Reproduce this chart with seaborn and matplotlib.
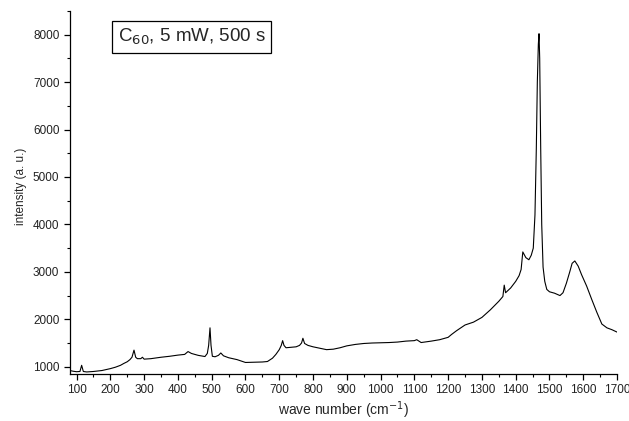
import matplotlib
matplotlib.use("Agg")
import matplotlib.pyplot as plt
import seaborn as sns
import pandas as pd
from matplotlib.ticker import MultipleLocator

wavenumber = [80, 90, 100, 110, 115, 120, 130, 150, 175, 200, 215, 230, 240, 250, 258, 264, 270, 275, 280,
              290, 295, 300, 320, 350, 375, 400, 420, 430, 440, 460, 480, 487, 491, 495, 498, 502, 510,
              520, 527, 535, 550, 575, 600, 625, 650, 665, 680, 690, 700, 706, 710, 714, 720, 735, 750,
              760, 766, 770, 775, 785, 800, 820, 840, 860, 880, 900, 925, 950, 975, 1000, 1025, 1050,
              1075, 1100, 1107, 1120, 1150, 1175, 1200, 1210, 1225, 1250, 1275, 1300, 1325, 1350, 1362,
              1366, 1370, 1385, 1400, 1410, 1416, 1421, 1430, 1439, 1446, 1452, 1457, 1461, 1464, 1467,
              1469, 1471, 1474, 1477, 1481, 1486, 1492, 1500, 1515, 1531, 1540, 1550, 1560, 1567, 1575,
              1585, 1595, 1610, 1625, 1640, 1655, 1670, 1685, 1700]
intensity = [920, 905, 895, 900, 1030, 900, 890, 900, 920, 960, 990, 1030, 1070, 1105, 1150, 1200, 1350, 1200,
             1170, 1170, 1200, 1160, 1170, 1200, 1220, 1245, 1260, 1320, 1280, 1240, 1215, 1280, 1450, 1820,
             1450, 1220, 1210, 1240, 1290, 1230, 1190, 1150, 1090, 1095, 1100, 1110, 1180, 1260, 1360, 1450,
             1550, 1450, 1400, 1410, 1420, 1450, 1500, 1600, 1490, 1450, 1420, 1390, 1360, 1370, 1400, 1440,
             1470, 1490, 1500, 1505, 1510, 1520, 1540, 1550, 1570, 1510, 1540, 1570, 1620, 1680, 1760, 1880,
             1940, 2040, 2200, 2380, 2480, 2720, 2560, 2660, 2800, 2920, 3050, 3420, 3300, 3255, 3350, 3500,
             4200, 5600, 7000, 7800, 8020, 7500, 5600, 4000, 3100, 2800, 2630, 2580, 2550, 2500, 2560, 2760,
             3000, 3180, 3230, 3120, 2940, 2700, 2420, 2150, 1900, 1820, 1780, 1730]

df = pd.DataFrame({"wavenumber": wavenumber, "intensity": intensity})

sns.set_style("ticks")
plt.rcParams["font.family"] = ["Liberation Sans", "DejaVu Sans"]

fig = plt.figure(figsize=(6.29, 4.21), dpi=100)
ax = fig.add_axes([0.111, 0.112, 0.870, 0.862])
sns.lineplot(data=df, x="wavenumber", y="intensity", ax=ax, color="black", linewidth=0.8, sort=False)

ax.set_xlim(80, 1700)
ax.set_ylim(850, 8500)
ax.xaxis.set_major_locator(MultipleLocator(100))
ax.xaxis.set_minor_locator(MultipleLocator(50))
ax.yaxis.set_major_locator(MultipleLocator(1000))
ax.yaxis.set_minor_locator(MultipleLocator(500))
ax.set_yticks([1000, 2000, 3000, 4000, 5000, 6000, 7000, 8000])
ax.tick_params(axis="both", which="major", direction="out", length=4, width=0.9, labelsize=8.5, color="black", labelcolor="#222222")
ax.tick_params(axis="both", which="minor", direction="out", length=2.5, width=0.8, color="black")
for s in ["top", "right"]:
    ax.spines[s].set_visible(False)
for s in ["left", "bottom"]:
    ax.spines[s].set_color("black")
    ax.spines[s].set_linewidth(0.9)

ax.set_xlabel("wave number (cm$^{-1}$)", fontsize=10, labelpad=2)
ax.set_ylabel("intensity (a. u.)", fontsize=8.5)
ax.yaxis.set_label_coords(-0.078, 0.518)
ax.text(0.088, 0.928, "C$_{60}$, 5 mW, 500 s", transform=ax.transAxes, fontsize=13.5, va="center", ha="left",
        bbox=dict(boxstyle="square,pad=0.3", facecolor="white", edgecolor="black", linewidth=0.9))

fig.savefig("out.png", dpi=100)
